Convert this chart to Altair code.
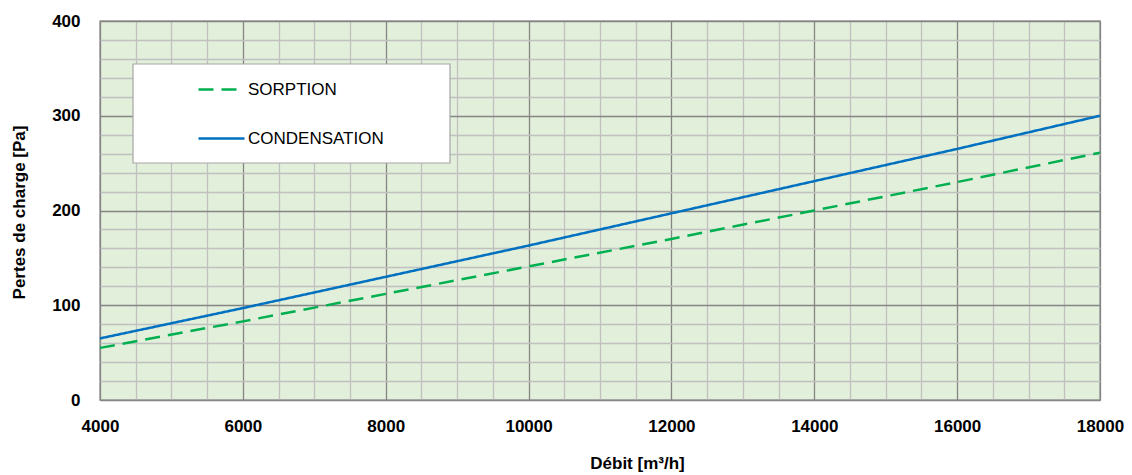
import altair as alt
import pandas as pd

debit = [4000, 6000, 8000, 10000, 12000, 14000, 16000, 18000]
sorption = [55, 83, 112, 141, 170, 200, 230, 261]
condensation = [65, 97, 130, 163, 197, 231, 265, 300]
series_names = ["SORPTION", "CONDENSATION"]
series_colors = ["#00B050", "#0070C0"]
series_dash = [[15, 8], [1, 0]]

x_grid = list(range(4000, 18001, 500))
y_grid = list(range(0, 401, 20))

df = pd.DataFrame({
    "debit": debit * 2,
    "pertes": sorption + condensation,
    "serie": [series_names[0]] * len(debit) + [series_names[1]] * len(debit),
})

FONT = "Liberation Sans"

legend_def = alt.Legend(
    title=None, orient="none", legendX=97, legendY=44, padding=0,
    symbolType="stroke", symbolSize=2116, symbolStrokeWidth=2.5,
    labelFont=FONT, labelFontSize=17, labelColor="#000000", labelOffset=2,
    rowPadding=16, labelLimit=300,
)

legend_box = alt.Chart(pd.DataFrame({"a": [0]})).mark_rect(
    fill="white", stroke="#a6a6a6", strokeWidth=1.2
).encode(x=alt.value(33), x2=alt.value(350), y=alt.value(43), y2=alt.value(142))

lines = alt.Chart(df).mark_line(strokeWidth=2.5).encode(
    x=alt.X("debit:Q", scale=alt.Scale(domain=[4000, 18000], nice=False, zero=False),
            axis=alt.Axis(
                values=x_grid, title="Débit [m³/h]",
                labelExpr="datum.value % 2000 === 0 ? datum.label : ''",
                format="d",
                gridColor={"condition": {"test": "datum.value % 2000 === 0", "value": "#858585"}, "value": "#c0c0c0"},
                gridWidth=1.3, ticks=False, domain=False,
                labelFont=FONT, labelFontSize=17, labelFontWeight="bold", labelColor="#000000",
                labelPadding=18, labelFlush=False,
                titleFont=FONT, titleFontSize=17, titleFontWeight="bold", titleColor="#000000",
                titleX=537, titleY=63, titleBaseline="middle", titleAlign="center",
            )),
    y=alt.Y("pertes:Q", scale=alt.Scale(domain=[0, 400], nice=False),
            axis=alt.Axis(
                values=y_grid, title="Pertes de charge [Pa]",
                labelExpr="datum.value % 100 === 0 ? datum.label : ''",
                format="d",
                gridColor={"condition": {"test": "datum.value % 100 === 0", "value": "#858585"}, "value": "#c0c0c0"},
                gridWidth=1.3, ticks=False, domain=False,
                labelFont=FONT, labelFontSize=17, labelFontWeight="bold", labelColor="#000000",
                labelPadding=20, labelFlush=False,
                titleFont=FONT, titleFontSize=17, titleFontWeight="bold", titleColor="#000000",
                titleX=-81, titleY=191, titleBaseline="middle", titleAlign="center", titleAngle=-90,
            )),
    color=alt.Color("serie:N", scale=alt.Scale(domain=series_names, range=series_colors), legend=legend_def),
    strokeDash=alt.StrokeDash("serie:N", scale=alt.Scale(domain=series_names, range=series_dash), legend=legend_def),
)

chart = alt.layer(legend_box, lines).properties(
    width=1000, height=379,
    autosize=alt.AutoSizeParams(type="none"),
    padding={"left": 92, "top": 13, "right": 24, "bottom": 75},
    background="white",
).configure_view(fill="#E2EFDA", stroke="#a0a0a0", strokeWidth=1.5)

chart.save("out.html", embed_options={"renderer": "svg", "actions": False})
